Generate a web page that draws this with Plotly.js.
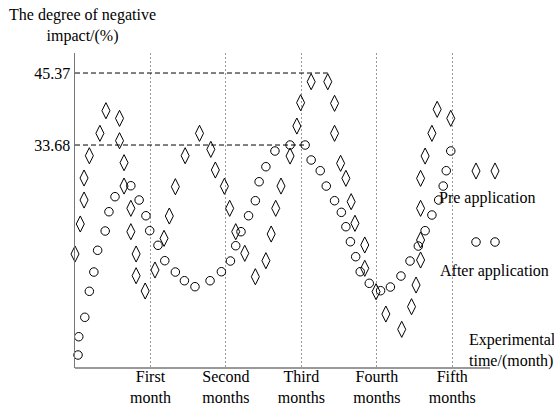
<!DOCTYPE html>
<html>
<head>
<meta charset="utf-8">
<script src="https://cdn.plot.ly/plotly-3.0.1.min.js"></script>
<style>html,body{margin:0;padding:0;background:#fff;}#chart{width:554px;height:408px;}</style>
</head>
<body>
<div id="chart"></div>
<script>
// ---- data ----
const monthTicks = [1, 2, 3, 4, 5];
const monthLabels = ["First<br>month", "Second<br>months", "Third<br>months", "Fourth<br>months", "Fifth<br>months"];
const yTickVals = [33.68, 45.37];
const yTickText = ["33.68", "45.37"];

// Pre application (diamonds)
const preX = [0.00,0.07,0.12,0.12,0.19,0.33,0.41,0.59,0.59,0.65,0.65,0.74,0.74,0.81,0.81,0.93,
  1.06,1.18,1.25,1.33,1.46,1.65,1.80,1.86,1.98,2.05,2.13,2.25,2.39,2.53,2.60,2.66,2.73,2.85,2.94,2.99,
  3.13,3.35,3.44,3.44,3.52,3.59,3.66,3.71,3.84,3.84,3.99,4.12,4.33,4.46,4.52,4.58,4.58,4.58,4.58,4.64,4.73,4.80,4.98];
const preY = [15.99,20.86,24.75,28.32,31.94,35.58,39.25,38.01,34.38,30.81,27.02,23.40,19.61,15.99,12.46,9.98,
  13.39,18.53,22.15,26.91,31.94,35.58,32.98,29.62,26.98,23.40,19.61,16.10,12.30,14.90,19.23,23.40,27.02,31.89,36.76,40.55,
  43.96,43.96,40.45,35.58,30.71,28.27,24.48,20.97,17.45,13.66,9.87,6.24,3.76,7.43,10.95,15.01,18.26,23.40,28.27,31.89,35.58,39.48,38.01];

// After application (circles)
const afterX = [0.04,0.05,0.13,0.19,0.25,0.30,0.40,0.45,0.53,0.74,0.85,0.94,0.99,1.10,1.19,1.33,1.45,1.59,1.79,1.94,
  2.06,2.13,2.20,2.30,2.39,2.44,2.53,2.65,2.85,3.05,3.13,3.25,3.33,3.44,3.53,3.59,3.65,3.72,3.78,3.90,
  4.05,4.18,4.32,4.44,4.55,4.64,4.73,4.82,4.88,4.92,4.98];
const afterY = [-0.41,2.56,5.71,9.93,13.06,16.59,19.72,22.85,25.29,27.07,24.75,22.20,19.77,17.40,14.90,13.06,11.65,10.68,11.65,13.11,
  14.85,17.33,19.61,22.20,24.64,27.72,30.16,32.71,33.68,33.68,31.25,29.51,27.02,24.64,22.75,20.42,17.98,15.55,13.11,11.23,
  10.03,10.63,12.41,14.85,17.28,19.77,22.32,24.75,27.02,29.51,32.71];

const seriesNames = ["Pre application", "After application"];

// ---- layout ----
const FONT = {family: "Liberation Serif, Times New Roman, serif", size: 16, color: "#000"};
function lastMaxX(xs, ys) {
  let m = -Infinity, xi = 0;
  ys.forEach((v, i) => { if (v >= m) { m = v; xi = xs[i]; } });
  return xi;
}
const preEnd = lastMaxX(preX, preY);
const afterEnd = lastMaxX(afterX, afterY);

const W = 554, H = 408, ML = 75, MT = 53, MB = 40;
const AXIS_END_PX = 490;            // where the drawn x axis line stops
const X_AXIS_END = 5.5;             // axis value at that pixel
const xMax = X_AXIS_END * (W - ML) / (AXIS_END_PX - ML);

// overlay axes in pixel units for legend keys
const legendKeyPx = [476, 495];
const legendPrePy = 171, legendAfterPy = 242;

const diamond = {symbol: "diamond-tall-open", size: 11.5, color: "#000", line: {color: "#000", width: 1}};
const circle = {symbol: "circle-open", size: 8.5, color: "#000", line: {color: "#000", width: 1}};

const traces = [
  {x: preX, y: preY, type: "scatter", mode: "markers", name: seriesNames[0], marker: diamond, cliponaxis: false},
  {x: afterX, y: afterY, type: "scatter", mode: "markers", name: seriesNames[1], marker: circle, cliponaxis: false},
  {x: legendKeyPx, y: [legendPrePy, legendPrePy], xaxis: "x2", yaxis: "y2", type: "scatter", mode: "markers", marker: diamond, hoverinfo: "skip"},
  {x: legendKeyPx, y: [legendAfterPy, legendAfterPy], xaxis: "x2", yaxis: "y2", type: "scatter", mode: "markers", marker: circle, hoverinfo: "skip"}
];

const pxX = px => (px - ML) / (W - ML);
const pxY = py => (H - MB - py) / (H - MB - MT);

const layout = {
  width: W, height: H,
  margin: {l: ML, r: 0, t: MT, b: MB},
  paper_bgcolor: "#fff", plot_bgcolor: "#fff",
  showlegend: false,
  font: FONT,
  xaxis: {
    range: [0, xMax], tickmode: "array", tickvals: monthTicks, ticktext: monthLabels,
    showgrid: true, gridcolor: "#999", gridwidth: 1, griddash: "2px,2px",
    showline: false, zeroline: false, ticks: "", ticklabelstandoff: -3,
    tickfont: FONT, fixedrange: true
  },
  yaxis: {
    range: [-2.52, 48.62], tickmode: "array", tickvals: yTickVals, ticktext: yTickText,
    showgrid: false, showline: true, linecolor: "#777", linewidth: 1.5, zeroline: false, ticks: "",
    tickfont: FONT, fixedrange: true
  },
  xaxis2: {overlaying: "x", range: [ML, W], visible: false, fixedrange: true},
  yaxis2: {overlaying: "y", range: [H - MB, MT], visible: false, fixedrange: true},
  shapes: [
    {type: "line", xref: "x", yref: "paper", x0: 0, x1: X_AXIS_END, y0: 0, y1: 0, line: {color: "#777", width: 1.5}},
    {type: "line", xref: "x", yref: "y", x0: 0, x1: preEnd, y0: yTickVals[1], y1: yTickVals[1], line: {color: "#000", width: 1, dash: "5px,3px"}},
    {type: "line", xref: "x", yref: "y", x0: 0, x1: afterEnd, y0: yTickVals[0], y1: yTickVals[0], line: {color: "#000", width: 1, dash: "5px,3px"}}
  ],
  annotations: [
    {text: "The degree of negative<br>impact/(%)", xref: "paper", yref: "paper", x: pxX(82), y: pxY(25), xanchor: "center", yanchor: "middle", showarrow: false, font: FONT},
    {text: seriesNames[0], xref: "paper", yref: "paper", x: pxX(437), y: pxY(198), xanchor: "left", yanchor: "middle", showarrow: false, font: FONT},
    {text: seriesNames[1], xref: "paper", yref: "paper", x: pxX(438), y: pxY(271), xanchor: "left", yanchor: "middle", showarrow: false, font: FONT},
    {text: "Experimental<br>time/(month)", xref: "paper", yref: "paper", x: pxX(467), y: pxY(350), xanchor: "left", yanchor: "middle", align: "left", showarrow: false, font: FONT}
  ]
};

Plotly.newPlot("chart", traces, layout, {displayModeBar: false, staticPlot: true});
</script>
</body>
</html>
